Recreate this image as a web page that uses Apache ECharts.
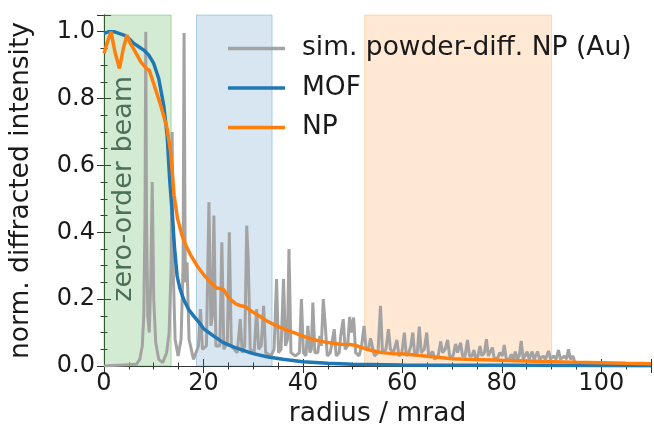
<!DOCTYPE html>
<html>
<head>
<meta charset="utf-8">
<script src="https://cdn.jsdelivr.net/npm/echarts@6/dist/echarts.min.js"></script>
<style>html,body{margin:0;padding:0;background:#fff}#c{width:654px;height:435px}</style>
</head>
<body>
<div id="c"></div>
<script>
// ---- data ----
const xTickLabels = ['0', '20', '40', '60', '80', '100'];
const yTickLabels = ['0.0', '0.2', '0.4', '0.6', '0.8', '1.0'];
const seriesNames = ['sim. powder-diff. NP (Au)', 'MOF', 'NP'];

// simulated powder diffraction (radius mrad, intensity)
const powderDiff = [
  [0,0],[6.5,0.005],[7.2,0.02],[7.7,0.06],[8.0,0.15],[8.25,0.45],[8.4,1.0],[8.55,0.45],[8.8,0.15],[9.1,0.1],
  [9.4,0.25],[9.7,0.55],[10.0,0.2],[10.4,0.07],[11.0,0.02],[11.8,0.01],[12.6,0.04],[13.1,0.1],[13.5,0.3],
  [13.7,0.70],[13.9,0.3],[14.3,0.08],[14.9,0.03],[15.5,0.08],[15.9,0.3],[16.1,0.996],[16.35,0.25],[16.7,0.31],
  [17.1,0.08],[18,0.02],[19.0,0.06],[19.4,0.17],[19.8,0.05],[20.6,0.06],[21.1,0.49],
  [21.5,0.12],[21.8,0.15],[22.1,0.45],[22.5,0.06],[23.3,0.06],[23.7,0.37],[24.1,0.05],[24.8,0.07],[25.2,0.40],
  [25.6,0.06],[26.8,0.04],[27.4,0.14],[27.8,0.04],[28.3,0.06],[28.7,0.42],[29.0,0.32],[29.4,0.05],[30.2,0.04],
  [30.7,0.17],[31.1,0.05],[31.6,0.06],[32.1,0.18],[32.5,0.04],[33.6,0.03],[34.2,0.05],[34.7,0.26],[35.1,0.04],
  [35.6,0.05],[36.1,0.26],[36.5,0.06],[36.9,0.08],[37.2,0.35],[37.6,0.04],[38.5,0.03],[39.3,0.04],[39.7,0.20],
  [40.1,0.04],[40.6,0.03],[41.0,0.12],[41.4,0.04],[41.7,0.05],[42.0,0.19],[42.4,0.04],[43.0,0.04],[43.4,0.09],
  [43.7,0.06],[44.1,0.20],[44.5,0.12],[44.9,0.03],[45.5,0.04],[46.3,0.11],[46.7,0.03],[47.3,0.04],[47.6,0.09],
  [48.1,0.14],[48.5,0.05],[49.0,0.06],[49.4,0.147],[49.8,0.10],[50.2,0.145],[50.6,0.04],[51.3,0.03],[51.8,0.06],
  [52.3,0.12],[52.7,0.05],[53.2,0.05],[53.6,0.083],[54.0,0.08],[54.4,0.03],[55.1,0.04],[55.6,0.18],[56.0,0.04],
  [56.7,0.05],[57.2,0.11],[57.6,0.05],[58.2,0.04],[58.9,0.078],[59.3,0.03],[59.9,0.04],[60.4,0.10],[60.8,0.03],
  [61.3,0.04],[61.7,0.06],[62.1,0.10],[62.5,0.03],[63.0,0.04],[63.4,0.118],[63.8,0.04],[64.4,0.05],[64.9,0.10],
  [65.3,0.03],[65.7,0.03],[66.1,0.043],[66.5,0.02],[67.2,0.03],[67.7,0.073],[68.1,0.04],[68.6,0.05],[69.1,0.078],
  [69.5,0.03],[70.2,0.03],[70.7,0.066],[71.1,0.04],[71.7,0.07],[72.1,0.03],[72.6,0.03],[73.1,0.078],[73.5,0.03],
  [74.0,0.03],[74.4,0.048],[74.8,0.02],[75.2,0.03],[75.6,0.06],[76.0,0.03],[76.5,0.04],[76.9,0.08],[77.3,0.03],
  [77.7,0.03],[78.1,0.055],[78.5,0.02],[79.2,0.025],[79.6,0.04],[80.1,0.03],[80.5,0.063],[80.9,0.02],[81.5,0.02],
  [81.9,0.035],[82.3,0.02],[82.7,0.043],[83.1,0.02],[83.5,0.03],[83.9,0.075],[84.3,0.02],[84.7,0.02],[85.1,0.043],
  [85.5,0.02],[86.1,0.043],[86.5,0.02],[87.2,0.043],[87.6,0.02],[88.3,0.03],[88.8,0.02],[89.4,0.045],[89.8,0.02],
  [90.4,0.03],[90.9,0.02],[91.4,0.048],[91.8,0.02],[92.6,0.03],[93.0,0.02],[93.4,0.05],[93.8,0.02],[94.3,0.03],
  [94.8,0.005],[95,0]
];

// MOF radial profile
const mofCurve = [
  [0,0.995],[1,1.0],[2,1.0],[3,0.995],[4,0.99],[5,0.98],[6,0.965],[7,0.955],[8,0.945],[9,0.93],[10,0.905],
  [11,0.86],[12,0.78],[12.7,0.69],[13.2,0.56],[13.7,0.46],[14.2,0.35],[14.7,0.27],[15.2,0.235],[16,0.2],
  [17,0.17],[18,0.15],[19,0.133],[20,0.112],[22,0.09],[24,0.07],[26,0.057],[28,0.047],[30,0.037],[33,0.027],
  [36,0.02],[40,0.013],[45,0.008],[50,0.005],[60,0.003],[80,0.002],[110,0.001]
];

// NP radial profile
const npCurve = [
  [0,0.935],[0.7,0.97],[1.4,1.0],[2.2,0.94],[3.1,0.89],[3.9,0.95],[4.6,0.99],[5.3,0.965],[6.1,0.945],[7.4,0.91],
  [8.5,0.89],[9.1,0.885],[10.1,0.84],[11.4,0.78],[12.7,0.71],[13.4,0.64],[14.1,0.51],[14.8,0.44],[15.7,0.39],
  [16.5,0.36],[17.5,0.33],[18.7,0.30],[20.2,0.27],[21.5,0.25],[22.6,0.233],[23.4,0.232],[24.1,0.228],[25,0.205],
  [26.5,0.186],[27.5,0.18],[28.5,0.177],[29.5,0.165],[31,0.152],[32.5,0.137],[34,0.125],[35.5,0.115],[37,0.106],
  [38.2,0.10],[39.5,0.092],[41,0.084],[43,0.076],[45,0.07],[47.4,0.065],[49.4,0.064],[50.5,0.062],[52.5,0.052],
  [54.2,0.045],[56,0.04],[58,0.037],[60.5,0.036],[63,0.032],[65,0.029],[67,0.026],[70,0.022],[73,0.02],
  [76,0.019],[80,0.017],[85,0.015],[90,0.013],[95,0.011],[100,0.01],[105,0.008],[110,0.007]
];

// shaded radius ranges
const zeroOrderRange = [0, 13.5];
const blueRange = [18.6, 33.8];
const orangeRange = [52.4, 90];
const zeroOrderLabel = 'zero-order beam';
const zeroOrderLabelPos = [4, 0.53];

// ---- chart ----
const FONT = 'DejaVu Sans';
const TXT = '#1a1a1a';
const FRAME = '#333';
const X_MIN = 0, X_MAX = 110, Y_MIN = 0, Y_MAX = 1.05;
const TICK_FS = 24, NAME_FS = 26.5;

const chart = echarts.init(document.getElementById('c'), null, {renderer: 'canvas'});

function xAx(pos, interval, len, labels) {
  return {
    type: 'value', position: pos, min: X_MIN, max: X_MAX, interval: interval,
    axisLine: {show: labels || interval === 20, lineStyle: {color: FRAME, width: 1}},
    axisTick: {show: true, inside: true, length: len, lineStyle: {color: FRAME, width: 1}},
    axisLabel: labels ? {
      show: true, fontFamily: FONT, fontSize: TICK_FS, color: TXT, margin: 6,
      formatter: v => (xTickLabels.indexOf(String(v)) >= 0 ? String(v) : '')
    } : {show: false},
    splitLine: {show: false},
    name: labels ? 'radius / mrad' : '',
    nameLocation: 'middle', nameGap: 29,
    nameTextStyle: {fontFamily: FONT, fontSize: NAME_FS, color: TXT}
  };
}
function yAx(pos, interval, len, labels) {
  return {
    type: 'value', position: pos, min: Y_MIN, max: Y_MAX, interval: interval,
    axisLine: {show: labels || interval === 0.2, lineStyle: {color: FRAME, width: 1}},
    axisTick: {show: true, inside: true, length: len, lineStyle: {color: FRAME, width: 1}},
    axisLabel: labels ? {
      show: true, fontFamily: FONT, fontSize: TICK_FS, color: TXT, margin: 9,
      formatter: v => { const s = v.toFixed(1); return (Math.abs(v - parseFloat(s)) < 1e-9 && yTickLabels.indexOf(s) >= 0) ? s : ''; }
    } : {show: false},
    splitLine: {show: false},
    name: labels ? 'norm. diffracted intensity' : '',
    nameLocation: 'middle', nameGap: 69,
    nameTextStyle: {fontFamily: FONT, fontSize: NAME_FS, color: TXT}
  };
}

const option = {
  animation: false,
  backgroundColor: '#fff',
  grid: {left: 103, right: 1, top: 15, bottom: 69, containLabel: false},
  xAxis: [
    xAx('bottom', 20, 7, true),
    xAx('bottom', 5, 3.5, false),
    xAx('top', 20, 7, false),
    xAx('top', 5, 3.5, false)
  ],
  yAxis: [
    yAx('left', 0.2, 7, true),
    yAx('left', 0.05, 3.5, false),
    yAx('right', 0.2, 7, false),
    yAx('right', 0.05, 3.5, false)
  ],
  legend: {
    data: seriesNames,
    orient: 'vertical', left: 223, top: 30,
    icon: 'rect', itemWidth: 57, itemHeight: 3.5, itemGap: 12.5,
    textStyle: {fontFamily: FONT, fontSize: NAME_FS, color: TXT, padding: [0, 0, 0, 12]}
  },
  series: [
    {
      name: 'regions', type: 'line', data: [], z: 0, silent: true,
      markArea: {
        silent: true,
        data: [
          [{xAxis: zeroOrderRange[0], yAxis: Y_MIN, itemStyle: {color: 'rgba(44,160,44,0.21)', borderColor: 'rgba(44,160,44,0.35)', borderWidth: 1}}, {xAxis: zeroOrderRange[1], yAxis: Y_MAX}],
          [{xAxis: blueRange[0], yAxis: Y_MIN, itemStyle: {color: 'rgba(31,119,180,0.18)', borderColor: 'rgba(31,119,180,0.3)', borderWidth: 1}}, {xAxis: blueRange[1], yAxis: Y_MAX}],
          [{xAxis: orangeRange[0], yAxis: Y_MIN, itemStyle: {color: 'rgba(255,127,14,0.18)', borderColor: 'rgba(255,127,14,0.25)', borderWidth: 1}}, {xAxis: orangeRange[1], yAxis: Y_MAX}]
        ]
      }
    },
    {
      name: seriesNames[0], type: 'line', data: powderDiff, z: 2,
      showSymbol: false, symbol: 'none',
      lineStyle: {color: '#a3a3a3', width: 3}, itemStyle: {color: '#a3a3a3'}
    },
    {
      name: seriesNames[1], type: 'line', data: mofCurve, z: 3,
      showSymbol: false, symbol: 'none',
      lineStyle: {color: '#1f77b4', width: 3.5}, itemStyle: {color: '#1f77b4'}
    },
    {
      name: seriesNames[2], type: 'line', data: npCurve, z: 4,
      showSymbol: false, symbol: 'none',
      lineStyle: {color: '#ff7f0e', width: 3.5}, itemStyle: {color: '#ff7f0e'}
    }
  ]
};
chart.setOption(option);

const p = chart.convertToPixel({xAxisIndex: 0, yAxisIndex: 0}, zeroOrderLabelPos);
chart.setOption({
  graphic: [{
    type: 'text', x: p[0], y: p[1], rotation: Math.PI / 2, z: 1,
    style: {text: zeroOrderLabel, fontFamily: FONT, fontSize: 27, fill: '#4d6e5a', align: 'center', verticalAlign: 'middle'}
  }]
});
</script>
</body>
</html>
